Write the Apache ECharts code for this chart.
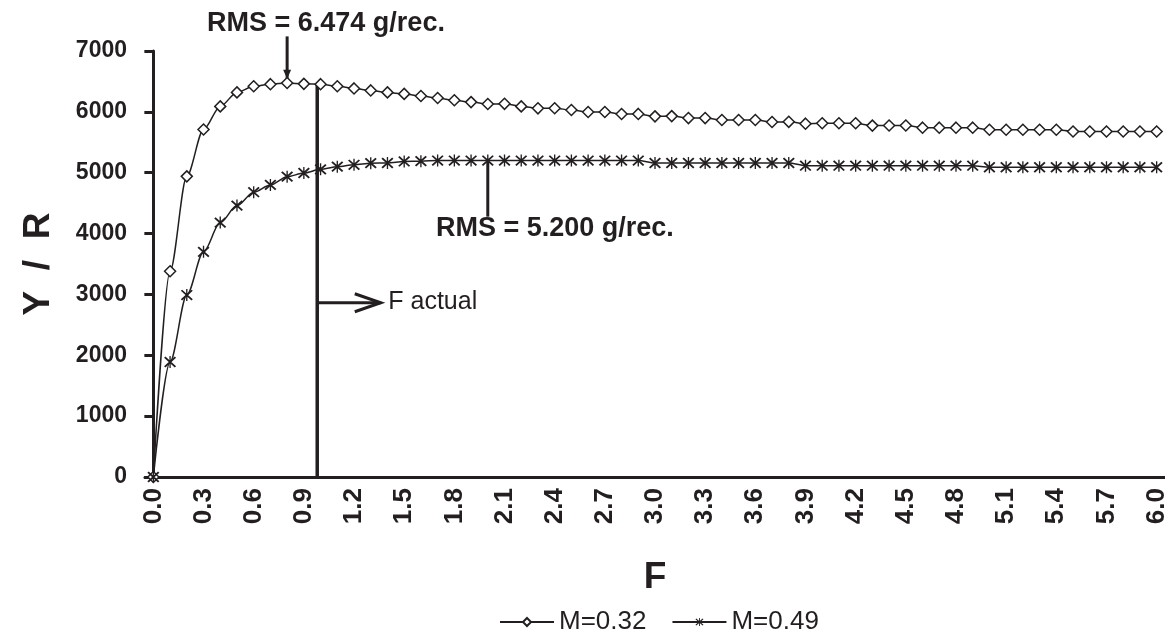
<!DOCTYPE html>
<html>
<head>
<meta charset="utf-8">
<script src="https://cdn.jsdelivr.net/npm/echarts@6/dist/echarts.min.js"></script>
<style>
    html, body { margin: 0; padding: 0; background: #fff; }
    #main { width: 1165px; height: 637px; }
</style>
</head>
<body>
<div id="main"></div>
<script>
// F values on the category axis
var fLabels = ['0.0', '0.1', '0.2', '0.3', '0.4', '0.5', '0.6', '0.7', '0.8', '0.9',
    '1.0', '1.1', '1.2', '1.3', '1.4', '1.5', '1.6', '1.7', '1.8', '1.9',
    '2.0', '2.1', '2.2', '2.3', '2.4', '2.5', '2.6', '2.7', '2.8', '2.9',
    '3.0', '3.1', '3.2', '3.3', '3.4', '3.5', '3.6', '3.7', '3.8', '3.9',
    '4.0', '4.1', '4.2', '4.3', '4.4', '4.5', '4.6', '4.7', '4.8', '4.9',
    '5.0', '5.1', '5.2', '5.3', '5.4', '5.5', '5.6', '5.7', '5.8', '5.9', '6.0'];

// Y/R for M=0.32
var yrM032 = [0, 3380, 4940, 5710, 6090, 6320, 6420, 6455, 6474, 6460,
    6455, 6420, 6385, 6352, 6320, 6295, 6260, 6227, 6190, 6160,
    6130, 6132, 6090, 6058, 6060, 6030, 5998, 5998, 5965, 5966,
    5926, 5930, 5898, 5898, 5866, 5866, 5866, 5834, 5836, 5806,
    5812, 5812, 5812, 5774, 5776, 5776, 5740, 5740, 5740, 5740,
    5706, 5706, 5706, 5706, 5706, 5678, 5678, 5678, 5678, 5678, 5678];

// Y/R for M=0.49
var yrM049 = [0, 1890, 2990, 3700, 4180, 4460, 4680, 4800, 4935, 4995,
    5055, 5100, 5130, 5157, 5160, 5185, 5190, 5200, 5200, 5200,
    5200, 5200, 5200, 5200, 5200, 5200, 5200, 5200, 5200, 5200,
    5160, 5160, 5160, 5160, 5160, 5160, 5160, 5160, 5160, 5115,
    5115, 5115, 5115, 5115, 5115, 5115, 5115, 5115, 5115, 5115,
    5090, 5090, 5090, 5090, 5090, 5090, 5090, 5090, 5090, 5090, 5090];

// annotations, in (F, Y/R) units: [f1, y1, f2, y2]
var annoSegments = [
    [0.8, 7240, 0.8, 6545],      // pointer to RMS = 6.474
    [0.98, 6457, 0.98, 0],       // F actual
    [0.98, 2863, 1.36, 2863],    // arrow to "F actual"
    [2.0, 5200, 2.0, 4278]       // pointer to RMS = 5.200
];
var annoTexts = [
    [0.321, 7449, 'RMS = 6.474 g/rec.', 'bold'],
    [1.69, 4088, 'RMS = 5.200 g/rec.', 'bold'],
    [1.405, 2870, 'F actual', 'normal']
];

var ink = '#231f20';
var fontFam = '"Liberation Sans", Arial, Helvetica, sans-serif';
var starPath = 'path://M45,0 L55,0 L55,100 L45,100 Z M5,15 L15,5 L95,85 L85,95 Z M85,5 L95,15 L15,95 L5,85 Z';

var chart = echarts.init(document.getElementById('main'));

var option = {
    backgroundColor: '#fff',
    animation: false,
    grid: { left: 145, right: 0, top: 51, bottom: 160, containLabel: false, outerBoundsMode: 'none' },
    legend: {
        data: ['M=0.32', 'M=0.49'],
        left: 494,
        top: 604,
        itemWidth: 54,
        itemHeight: 10,
        itemGap: 25,
        textStyle: { color: ink, fontSize: 26, fontFamily: fontFam }
    },
    xAxis: [{
        type: 'category',
        data: fLabels,
        boundaryGap: true,
        name: 'F',
        nameLocation: 'middle',
        nameGap: 82,
        nameTextStyle: { color: ink, fontSize: 37, fontWeight: 'bold', fontFamily: fontFam },
        axisLine: { lineStyle: { color: ink, width: 3 } },
        axisTick: { interval: 0, length: 8, lineStyle: { color: ink, width: 3 } },
        axisLabel: {
            interval: 2, rotate: 90, margin: 11,
            color: ink, fontSize: 26, fontWeight: 'bold', fontFamily: fontFam
        },
        splitLine: { show: false }
    }, {
        type: 'value',
        min: -0.05,
        max: 6.05,
        show: false
    }],
    yAxis: {
        type: 'value',
        min: 0,
        max: 7000,
        interval: 1000,
        name: 'Y  /  R',
        nameLocation: 'middle',
        nameGap: 88,
        nameTextStyle: { color: ink, fontSize: 37, fontWeight: 'bold', fontFamily: fontFam },
        axisLine: { show: true, lineStyle: { color: ink, width: 3 } },
        axisTick: { show: true, length: 9, lineStyle: { color: ink, width: 3 } },
        axisLabel: {
            margin: 18, color: ink, fontSize: 23, fontWeight: 'bold', fontFamily: fontFam,
            formatter: function(v) { return String(v); }
        },
        splitLine: { show: false }
    },
    series: [{
        name: 'M=0.32',
        type: 'line',
        data: yrM032,
        smooth: 0.3,
        smoothMonotone: 'x',
        clip: false,
        showAllSymbol: true,
        symbol: 'diamond',
        symbolSize: 11,
        lineStyle: { color: ink, width: 1.5 },
        itemStyle: { color: '#fff', borderColor: ink, borderWidth: 1.5 },
        z: 3
    }, {
        name: 'M=0.49',
        type: 'line',
        data: yrM049,
        smooth: 0.3,
        smoothMonotone: 'x',
        clip: false,
        showAllSymbol: true,
        symbol: starPath,
        symbolSize: 12,
        lineStyle: { color: ink, width: 1.5 },
        itemStyle: { color: ink, borderWidth: 0 },
        z: 3
    }, {
        type: 'custom',
        xAxisIndex: 1,
        clip: false,
        silent: true,
        z: 2,
        data: annoSegments,
        renderItem: function(params, api) {
            var p1 = api.coord([api.value(0), api.value(1)]);
            var p2 = api.coord([api.value(2), api.value(3)]);
            var i = params.dataIndex;
            var w = (i === 1) ? 3.5 : 3;
            var children = [{
                type: 'line',
                shape: { x1: p1[0], y1: p1[1], x2: p2[0], y2: p2[1] },
                style: { stroke: ink, lineWidth: w }
            }];
            if (i === 0) {
                // small filled head pointing down
                children.push({
                    type: 'polygon',
                    shape: { points: [[p2[0] - 4, p2[1] - 9], [p2[0] + 4, p2[1] - 9], [p2[0], p2[1]]] },
                    style: { fill: ink }
                });
            }
            if (i === 2) {
                // open chevron head
                children.push({
                    type: 'polyline',
                    shape: { points: [[p2[0] - 26, p2[1] - 9], [p2[0], p2[1]], [p2[0] - 26, p2[1] + 9]] },
                    style: { stroke: ink, lineWidth: 3, fill: null }
                });
            }
            return { type: 'group', children: children };
        }
    }, {
        type: 'custom',
        xAxisIndex: 1,
        clip: false,
        silent: true,
        z: 4,
        data: annoTexts.map(function(t) { return [t[0], t[1]]; }),
        renderItem: function(params, api) {
            var p = api.coord([api.value(0), api.value(1)]);
            var t = annoTexts[params.dataIndex];
            return {
                type: 'text',
                x: p[0],
                y: p[1],
                style: {
                    text: t[2],
                    fill: ink,
                    font: t[3] + ' ' + (t[3] === 'bold' ? 27 : 25) + 'px ' + fontFam,
                    textAlign: 'left',
                    textVerticalAlign: 'middle'
                }
            };
        }
    }]
};

chart.setOption(option);
</script>
</body>
</html>
